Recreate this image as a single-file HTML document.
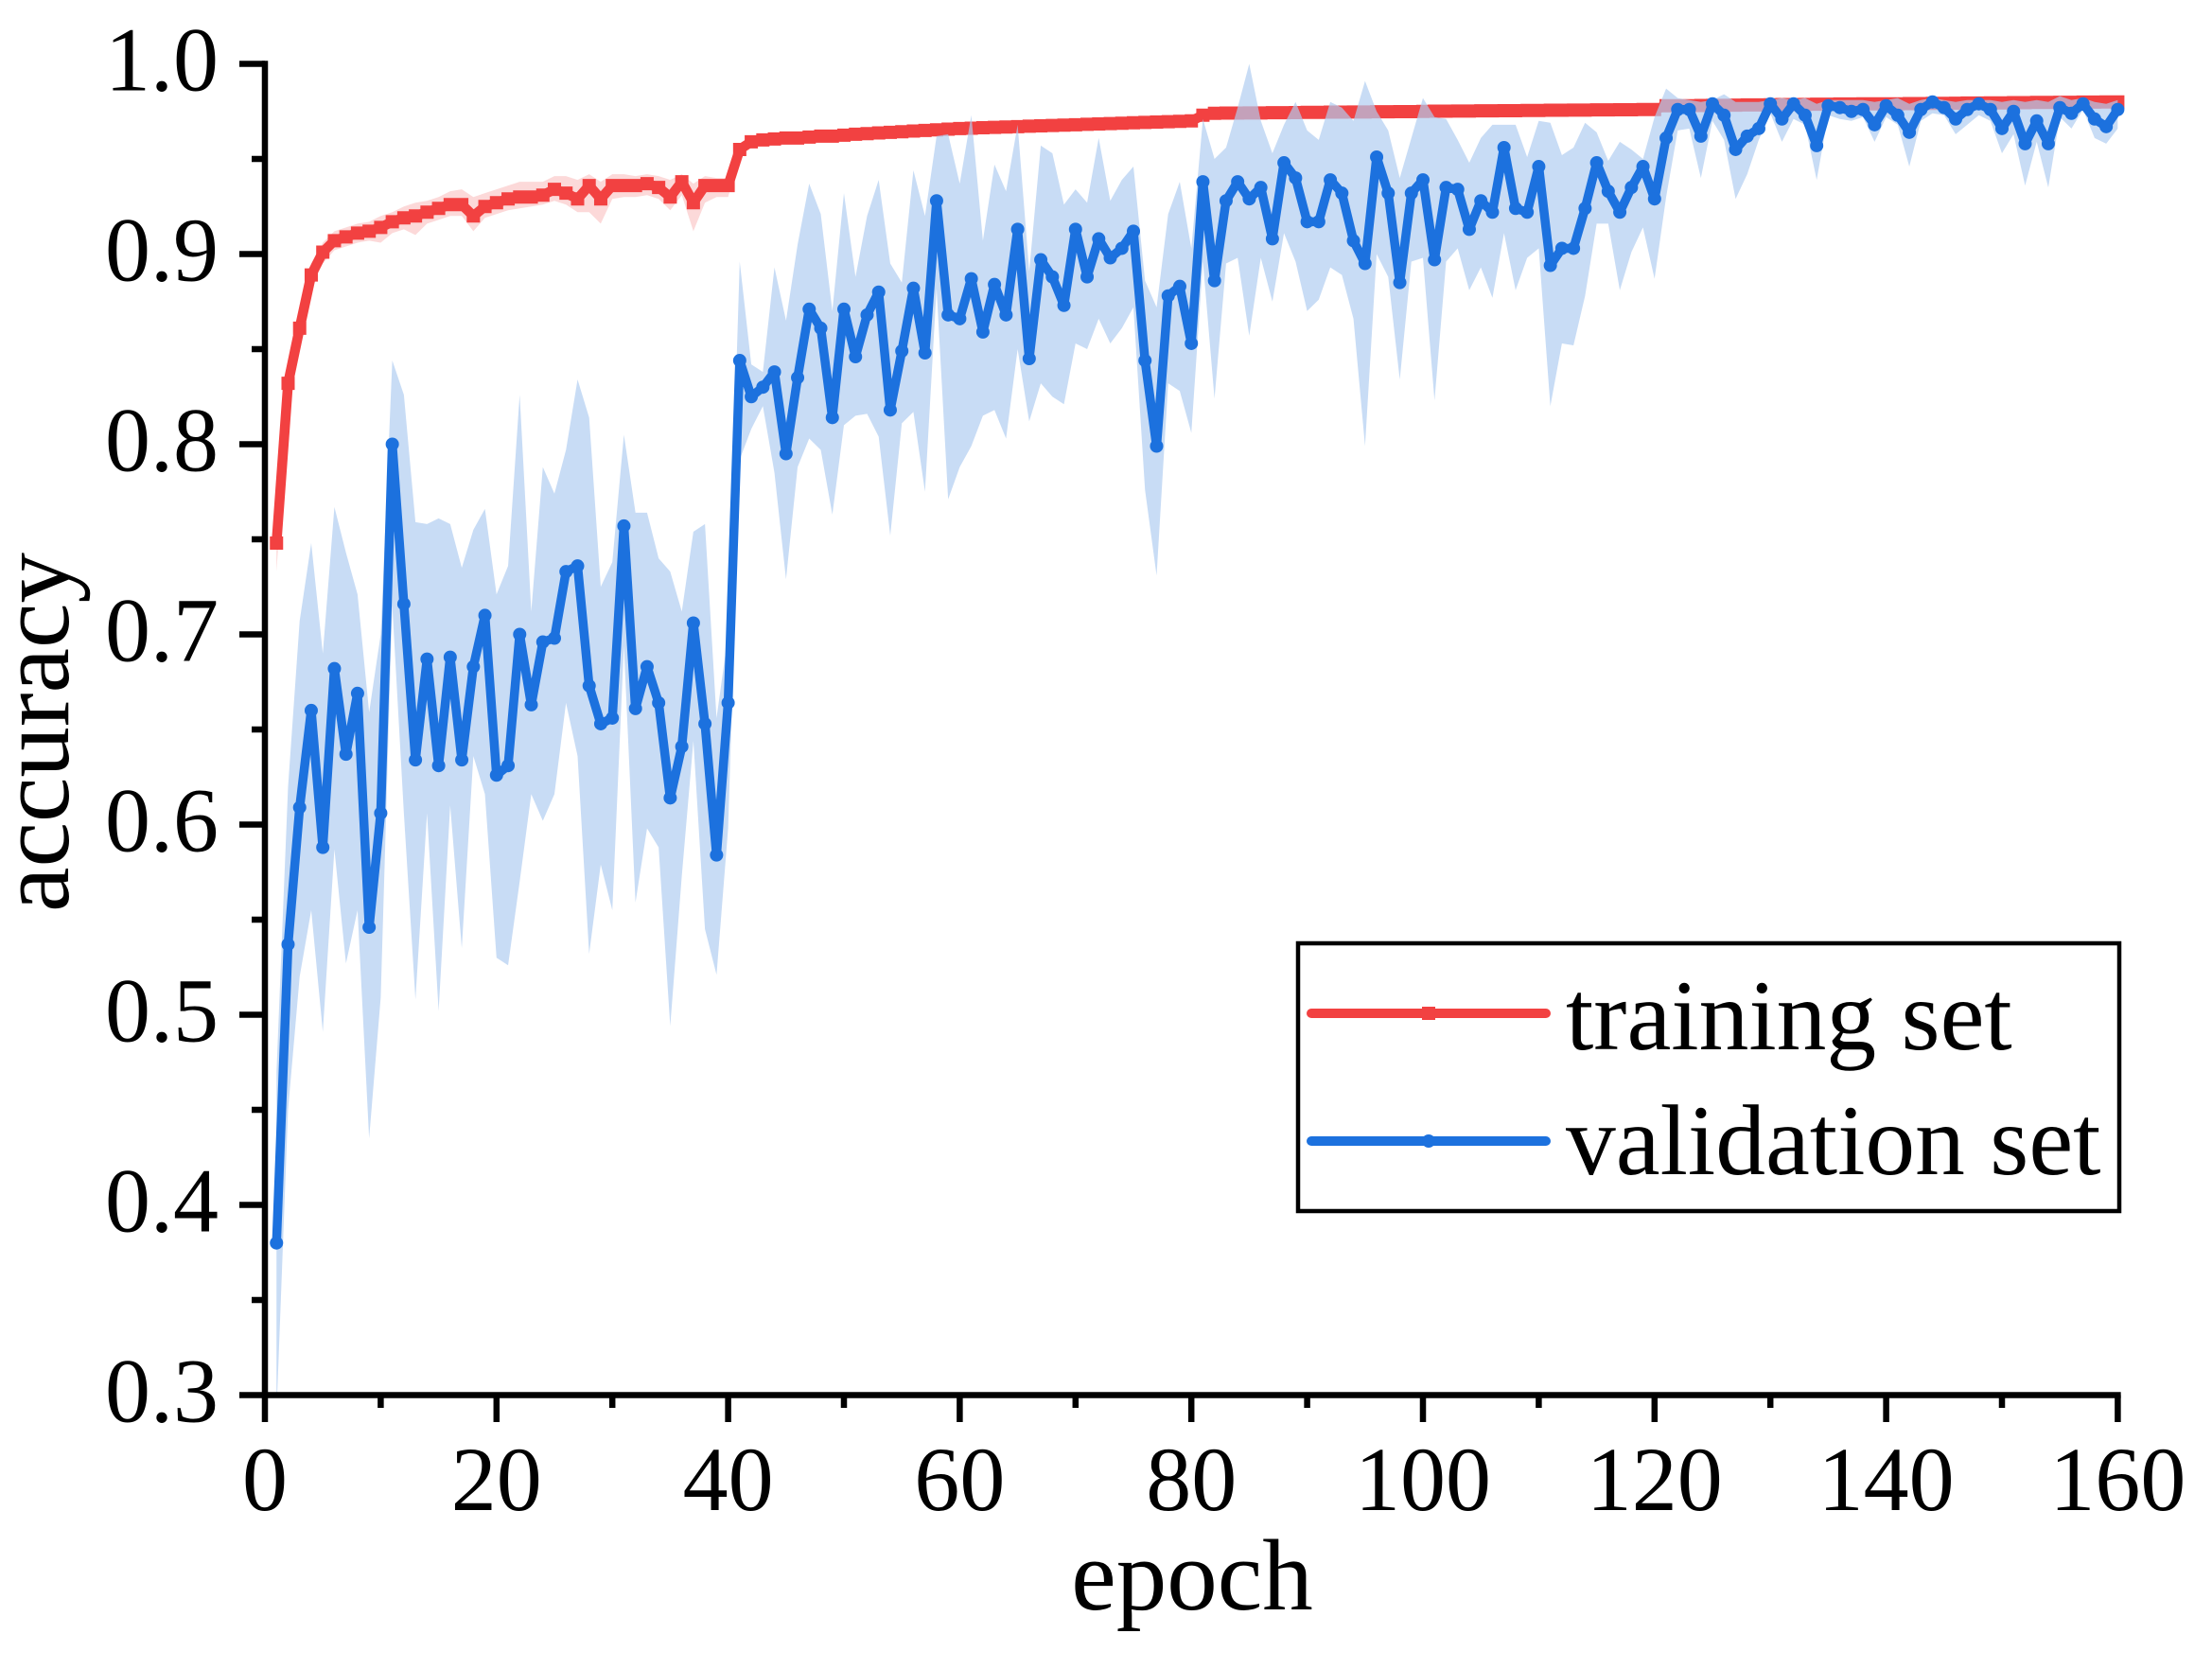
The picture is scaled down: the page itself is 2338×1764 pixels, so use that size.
<!DOCTYPE html>
<html>
<head>
<meta charset="utf-8">
<style>
html,body{margin:0;padding:0;background:#ffffff;}
svg{display:block;}
</style>
</head>
<body>
<svg width="2338" height="1764" viewBox="0 0 2338 1764" xmlns="http://www.w3.org/2000/svg" font-family="'Liberation Serif','Times New Roman',serif">
<defs>
<clipPath id="pc"><rect x="280" y="67.5" width="1958.4" height="1407"/></clipPath>
</defs>
<rect x="0" y="0" width="2338" height="1764" fill="#ffffff"/>

<!-- red band -->
<g clip-path="url(#pc)"><g transform="matrix(12.24 0 0 -2010 280 2077.5)">
<polygon fill="#f24040" fill-opacity="0.2" points="1,.760 2,.842 3,.869 4,.895 5,.906 6,.912 7,.914 8,.916 9,.917 10,.920 11,.922 12,.925 13,.927 14,.928 15,.930 16,.933 17,.934 18,.930 19,.932 20,.934 21,.936 22,.938 23,.938 24,.938 25,.941 26,.941 27,.939 28,.942 29,.938 30,.942 31,.942 32,.941 33,.942 34,.941 35,.939 36,.942 37,.937 38,.941 39,.940 40,.940 41,.958 42,.962 42,.956 41,.952 40,.930 39,.930 38,.927 37,.912 36,.931 35,.923 34,.929 33,.931 32,.930 31,.930 30,.929 29,.916 28,.922 27,.922 26,.926 25,.928 24,.926 23,.925 22,.924 21,.923 20,.921 19,.919 18,.912 17,.920 16,.920 15,.918 14,.916 13,.910 12,.913 11,.911 10,.906 9,.907 8,.906 7,.904 6,.902 5,.895 4,.882 3,.852 2,.822 1,.733"/>
</g></g>

<!-- red line -->
<g transform="matrix(12.24 0 0 -2010 280 2077.5)">
<polyline fill="none" stroke="#f24141" stroke-width="10.5" stroke-linejoin="round" vector-effect="non-scaling-stroke" points="1,.748 2,.832 3,.861 4,.889 5,.901 6,.907 7,.909 8,.911 9,.912 10,.914 11,.917 12,.919 13,.920 14,.922 15,.924 16,.926 17,.926 18,.920 19,.925 20,.927 21,.929 22,.930 23,.930 24,.931 25,.934 26,.932 27,.929 28,.936 29,.929 30,.936 31,.936 32,.936 33,.937 34,.935 35,.930 36,.938 37,.927 38,.936 39,.936 40,.936 41,.955 42,.959 43,.960 44,.9605 45,.961 46,.961 47,.9615 48,.962 49,.962 50,.9625 51,.963 52,.9633 53,.9637 54,.964 55,.9643 56,.9647 57,.965 58,.9653 59,.9657 60,.966 61,.9662 62,.9664 63,.9666 64,.9668 65,.967 66,.9672 67,.9674 68,.9676 69,.9678 70,.968 71,.9682 72,.9684 73,.9686 74,.9688 75,.969 76,.9692 77,.9694 78,.9696 79,.9698 80,.970 81,.973 82,.974 83,.9741 84,.9741 85,.9742 86,.9742 87,.9743 88,.9743 89,.9744 90,.9745 91,.9745 92,.9746 93,.9746 94,.9747 95,.9747 96,.9748 97,.9748 98,.9749 99,.9749 100,.975 101,.9751 102,.9751 103,.9752 104,.9752 105,.9753 106,.9753 107,.9754 108,.9754 109,.9755 110,.9755 111,.9756 112,.9756 113,.9757 114,.9757 115,.9758 116,.9758 117,.9759 118,.9759 119,.976 120,.976 121,.978 122,.978 123,.978 124,.9781 125,.9782 126,.9782 127,.9783 128,.9784 129,.9784 130,.9785 131,.9786 132,.9786 133,.9787 134,.9788 135,.9788 136,.9789 137,.9789 138,.979 139,.979 140,.979 141,.979 142,.9791 143,.9791 144,.9792 145,.9792 146,.9793 147,.9794 148,.9794 149,.9795 150,.9795 151,.9796 152,.9796 153,.9797 154,.9797 155,.9798 156,.9798 157,.9799 158,.9799 159,.980 160,.980"/>
<path fill="none" stroke="#f24141" stroke-width="14" stroke-linecap="square" vector-effect="non-scaling-stroke" d="M1,.748h.001M2,.832h.001M3,.861h.001M4,.889h.001M5,.901h.001M6,.907h.001M7,.909h.001M8,.911h.001M9,.912h.001M10,.914h.001M11,.917h.001M12,.919h.001M13,.920h.001M14,.922h.001M15,.924h.001M16,.926h.001M17,.926h.001M18,.920h.001M19,.925h.001M20,.927h.001M21,.929h.001M22,.930h.001M23,.930h.001M24,.931h.001M25,.934h.001M26,.932h.001M27,.929h.001M28,.936h.001M29,.929h.001M30,.936h.001M31,.936h.001M32,.936h.001M33,.937h.001M34,.935h.001M35,.930h.001M36,.938h.001M37,.927h.001M38,.936h.001M39,.936h.001M40,.936h.001M41,.955h.001M42,.959h.001M43,.960h.001M44,.9605h.001M45,.961h.001M46,.961h.001M47,.9615h.001M48,.962h.001M49,.962h.001M50,.9625h.001M51,.963h.001M52,.9633h.001M53,.9637h.001M54,.964h.001M55,.9643h.001M56,.9647h.001M57,.965h.001M58,.9653h.001M59,.9657h.001M60,.966h.001M61,.9662h.001M62,.9664h.001M63,.9666h.001M64,.9668h.001M65,.967h.001M66,.9672h.001M67,.9674h.001M68,.9676h.001M69,.9678h.001M70,.968h.001M71,.9682h.001M72,.9684h.001M73,.9686h.001M74,.9688h.001M75,.969h.001M76,.9692h.001M77,.9694h.001M78,.9696h.001M79,.9698h.001M80,.970h.001M81,.973h.001M82,.974h.001M83,.9741h.001M84,.9741h.001M85,.9742h.001M86,.9742h.001M87,.9743h.001M88,.9743h.001M89,.9744h.001M90,.9745h.001M91,.9745h.001M92,.9746h.001M93,.9746h.001M94,.9747h.001M95,.9747h.001M96,.9748h.001M97,.9748h.001M98,.9749h.001M99,.9749h.001M100,.975h.001M101,.9751h.001M102,.9751h.001M103,.9752h.001M104,.9752h.001M105,.9753h.001M106,.9753h.001M107,.9754h.001M108,.9754h.001M109,.9755h.001M110,.9755h.001M111,.9756h.001M112,.9756h.001M113,.9757h.001M114,.9757h.001M115,.9758h.001M116,.9758h.001M117,.9759h.001M118,.9759h.001M119,.976h.001M120,.976h.001M121,.978h.001M122,.978h.001M123,.978h.001M124,.9781h.001M125,.9782h.001M126,.9782h.001M127,.9783h.001M128,.9784h.001M129,.9784h.001M130,.9785h.001M131,.9786h.001M132,.9786h.001M133,.9787h.001M134,.9788h.001M135,.9788h.001M136,.9789h.001M137,.9789h.001M138,.979h.001M139,.979h.001M140,.979h.001M141,.979h.001M142,.9791h.001M143,.9791h.001M144,.9792h.001M145,.9792h.001M146,.9793h.001M147,.9794h.001M148,.9794h.001M149,.9795h.001M150,.9795h.001M151,.9796h.001M152,.9796h.001M153,.9797h.001M154,.9797h.001M155,.9798h.001M156,.9798h.001M157,.9799h.001M158,.9799h.001M159,.980h.001M160,.980h.001"/>
</g>

<!-- blue band -->
<g clip-path="url(#pc)"><g transform="matrix(12.24 0 0 -2010 280 2077.5)">
<polygon fill="rgb(175,204,240)" fill-opacity="0.69" points="1,.47 2,.62 3,.707 4,.748 5,.690 6,.767 7,.743 8,.721 9,.659 10,.70 11,.844 12,.826 13,.759 14,.758 15,.761 16,.758 17,.735 18,.755 19,.766 20,.721 21,.736 22,.826 23,.712 24,.788 25,.774 26,.797 27,.834 28,.814 29,.725 30,.738 31,.805 32,.764 33,.764 34,.740 35,.733 36,.712 37,.754 38,.758 39,.656 40,.70 41,.896 42,.842 43,.838 44,.893 45,.865 46,.905 47,.937 48,.921 49,.870 50,.932 51,.888 52,.920 53,.939 54,.895 55,.885 56,.944 57,.920 58,.962 59,.963 60,.937 61,.973 62,.907 63,.947 64,.933 65,.968 66,.891 67,.957 68,.953 69,.926 70,.934 71,.927 72,.961 73,.928 74,.939 75,.946 76,.886 77,.872 78,.921 79,.938 80,.903 81,.971 82,.950 83,.956 84,.977 85,1 86,.970 87,.953 88,.968 89,.980 90,.965 91,.960 92,.980 93,.977 94,.970 95,.991 96,.975 97,.965 98,.940 99,.961 100,.982 101,.972 102,.971 103,.960 104,.948 105,.961 106,.968 107,.968 108,.968 109,.951 110,.970 111,.969 112,.952 113,.956 114,.969 115,.964 116,.949 117,.959 118,.955 119,.950 120,.972 121,.987 122,.982 123,.981 124,.980 125,.981 126,.984 127,.980 128,.980 129,.980 130,.981 131,.982 132,.981 133,.982 134,.979 135,.981 136,.981 137,.981 138,.981 139,.980 140,.981 141,.982 142,.979 143,.981 144,.982 145,.981 146,.980 147,.981 148,.981 149,.981 150,.980 151,.981 152,.980 153,.981 154,.980 155,.983 156,.981 157,.982 158,.980 159,.979 160,.981 160,.966 159,.958 158,.961 157,.976 156,.966 155,.972 154,.935 153,.959 152,.936 151,.963 150,.953 149,.970 148,.973 147,.968 146,.963 145,.973 144,.974 143,.970 142,.946 141,.968 140,.972 139,.959 138,.972 137,.970 136,.971 135,.973 134,.939 133,.968 132,.971 131,.959 130,.974 129,.960 128,.942 127,.929 126,.960 125,.970 124,.940 123,.966 122,.965 121,.930 120,.887 119,.914 118,.901 117,.881 116,.916 115,.916 114,.878 113,.852 112,.853 111,.820 110,.903 109,.898 108,.881 107,.911 106,.877 105,.893 104,.881 103,.903 102,.896 101,.823 100,.898 99,.896 98,.834 97,.888 96,.900 95,.799 94,.866 93,.889 92,.893 91,.876 90,.870 89,.896 88,.911 87,.875 86,.898 85,.857 84,.898 83,.895 82,.824 81,.896 80,.806 79,.828 78,.832 77,.731 76,.776 75,.872 74,.861 73,.853 72,.866 71,.850 70,.853 69,.821 68,.825 67,.832 66,.812 65,.850 64,.803 63,.818 62,.815 61,.799 60,.788 59,.771 58,.882 57,.775 56,.817 55,.811 54,.752 53,.804 52,.816 51,.815 50,.810 49,.763 48,.797 47,.803 46,.788 45,.729 44,.785 43,.820 42,.808 41,.792 40,.598 39,.521 38,.545 37,.644 36,.573 35,.494 34,.588 33,.598 32,.559 31,.694 30,.555 29,.579 28,.532 27,.636 26,.664 25,.616 24,.602 23,.616 22,.570 21,.526 20,.530 19,.616 18,.636 17,.535 16,.610 15,.502 14,.606 13,.508 12,.606 11,.715 10,.509 9,.435 8,.555 7,.527 6,.587 5,.491 4,.555 3,.520 2,.450 1,.290"/>
</g></g>

<!-- blue line -->
<g transform="matrix(12.24 0 0 -2010 280 2077.5)">
<polyline fill="none" stroke="#1c71de" stroke-width="9.5" stroke-linejoin="round" vector-effect="non-scaling-stroke" points="1,.380 2,.537 3,.609 4,.660 5,.588 6,.682 7,.637 8,.669 9,.546 10,.606 11,.800 12,.716 13,.634 14,.687 15,.631 16,.688 17,.634 18,.683 19,.710 20,.626 21,.631 22,.700 23,.663 24,.696 25,.698 26,.733 27,.736 28,.673 29,.653 30,.656 31,.757 32,.661 33,.683 34,.664 35,.614 36,.641 37,.706 38,.653 39,.584 40,.664 41,.844 42,.825 43,.830 44,.838 45,.795 46,.835 47,.871 48,.861 49,.814 50,.871 51,.846 52,.868 53,.880 54,.818 55,.849 56,.882 57,.848 58,.928 59,.868 60,.866 61,.887 62,.859 63,.884 64,.868 65,.913 66,.845 67,.897 68,.888 69,.873 70,.913 71,.888 72,.908 73,.898 74,.903 75,.912 76,.844 77,.799 78,.878 79,.883 80,.853 81,.938 82,.886 83,.928 84,.938 85,.929 86,.935 87,.908 88,.948 89,.940 90,.917 91,.917 92,.939 93,.932 94,.907 95,.895 96,.951 97,.932 98,.885 99,.932 100,.939 101,.897 102,.935 103,.934 104,.913 105,.928 106,.922 107,.956 108,.924 109,.922 110,.946 111,.894 112,.903 113,.903 114,.924 115,.948 116,.933 117,.922 118,.935 119,.946 120,.929 121,.961 122,.976 123,.976 124,.962 125,.979 126,.973 127,.955 128,.962 129,.966 130,.979 131,.971 132,.979 133,.973 134,.957 135,.978 136,.977 137,.975 138,.976 139,.968 140,.978 141,.973 142,.964 143,.976 144,.980 145,.977 146,.971 147,.976 148,.979 149,.976 150,.966 151,.975 152,.958 153,.970 154,.958 155,.977 156,.974 157,.979 158,.971 159,.967 160,.976"/>
<path fill="none" stroke="#1c71de" stroke-width="14" stroke-linecap="round" vector-effect="non-scaling-stroke" d="M1,.380h.001M2,.537h.001M3,.609h.001M4,.660h.001M5,.588h.001M6,.682h.001M7,.637h.001M8,.669h.001M9,.546h.001M10,.606h.001M11,.800h.001M12,.716h.001M13,.634h.001M14,.687h.001M15,.631h.001M16,.688h.001M17,.634h.001M18,.683h.001M19,.710h.001M20,.626h.001M21,.631h.001M22,.700h.001M23,.663h.001M24,.696h.001M25,.698h.001M26,.733h.001M27,.736h.001M28,.673h.001M29,.653h.001M30,.656h.001M31,.757h.001M32,.661h.001M33,.683h.001M34,.664h.001M35,.614h.001M36,.641h.001M37,.706h.001M38,.653h.001M39,.584h.001M40,.664h.001M41,.844h.001M42,.825h.001M43,.830h.001M44,.838h.001M45,.795h.001M46,.835h.001M47,.871h.001M48,.861h.001M49,.814h.001M50,.871h.001M51,.846h.001M52,.868h.001M53,.880h.001M54,.818h.001M55,.849h.001M56,.882h.001M57,.848h.001M58,.928h.001M59,.868h.001M60,.866h.001M61,.887h.001M62,.859h.001M63,.884h.001M64,.868h.001M65,.913h.001M66,.845h.001M67,.897h.001M68,.888h.001M69,.873h.001M70,.913h.001M71,.888h.001M72,.908h.001M73,.898h.001M74,.903h.001M75,.912h.001M76,.844h.001M77,.799h.001M78,.878h.001M79,.883h.001M80,.853h.001M81,.938h.001M82,.886h.001M83,.928h.001M84,.938h.001M85,.929h.001M86,.935h.001M87,.908h.001M88,.948h.001M89,.940h.001M90,.917h.001M91,.917h.001M92,.939h.001M93,.932h.001M94,.907h.001M95,.895h.001M96,.951h.001M97,.932h.001M98,.885h.001M99,.932h.001M100,.939h.001M101,.897h.001M102,.935h.001M103,.934h.001M104,.913h.001M105,.928h.001M106,.922h.001M107,.956h.001M108,.924h.001M109,.922h.001M110,.946h.001M111,.894h.001M112,.903h.001M113,.903h.001M114,.924h.001M115,.948h.001M116,.933h.001M117,.922h.001M118,.935h.001M119,.946h.001M120,.929h.001M121,.961h.001M122,.976h.001M123,.976h.001M124,.962h.001M125,.979h.001M126,.973h.001M127,.955h.001M128,.962h.001M129,.966h.001M130,.979h.001M131,.971h.001M132,.979h.001M133,.973h.001M134,.957h.001M135,.978h.001M136,.977h.001M137,.975h.001M138,.976h.001M139,.968h.001M140,.978h.001M141,.973h.001M142,.964h.001M143,.976h.001M144,.980h.001M145,.977h.001M146,.971h.001M147,.976h.001M148,.979h.001M149,.976h.001M150,.966h.001M151,.975h.001M152,.958h.001M153,.970h.001M154,.958h.001M155,.977h.001M156,.974h.001M157,.979h.001M158,.971h.001M159,.967h.001M160,.976h.001"/>
</g>

<!-- axes -->
<g stroke="#000" stroke-width="6.5" fill="none">
<line x1="280" y1="64.25" x2="280" y2="1503"/>
<line x1="253" y1="1474.5" x2="2241.65" y2="1474.5"/>
<path d="M253,67.5H280M253,268.5H280M253,469.5H280M253,670.5H280M253,871.5H280M253,1072.5H280M253,1273.5H280"/>
<path d="M266,168H280M266,369H280M266,570H280M266,771H280M266,972H280M266,1173H280M266,1374H280"/>
<path d="M524.8,1474.5V1503M769.6,1474.5V1503M1014.4,1474.5V1503M1259.2,1474.5V1503M1504,1474.5V1503M1748.8,1474.5V1503M1993.6,1474.5V1503M2238.4,1474.5V1503"/>
<path d="M402.4,1474.5V1488M647.2,1474.5V1488M892,1474.5V1488M1136.8,1474.5V1488M1381.6,1474.5V1488M1626.4,1474.5V1488M1871.2,1474.5V1488M2116,1474.5V1488"/>
</g>

<!-- y tick labels -->
<g font-size="96" fill="#000" text-anchor="end">
<text x="231" y="95.5">1.0</text>
<text x="231" y="296.5">0.9</text>
<text x="231" y="497.5">0.8</text>
<text x="231" y="698.5">0.7</text>
<text x="231" y="899.5">0.6</text>
<text x="231" y="1100.5">0.5</text>
<text x="231" y="1301.5">0.4</text>
<text x="231" y="1502.5">0.3</text>
</g>

<!-- x tick labels -->
<g font-size="96" fill="#000" text-anchor="middle">
<text x="280" y="1596">0</text>
<text x="524.8" y="1596">20</text>
<text x="769.6" y="1596">40</text>
<text x="1014.4" y="1596">60</text>
<text x="1259.2" y="1596">80</text>
<text x="1504" y="1596">100</text>
<text x="1748.8" y="1596">120</text>
<text x="1993.6" y="1596">140</text>
<text x="2238.4" y="1596">160</text>
</g>

<!-- axis titles -->
<text x="1260" y="1701" font-size="107" text-anchor="middle" fill="#000">epoch</text>
<text transform="translate(72,774) rotate(-90)" font-size="107" text-anchor="middle" fill="#000">accuracy</text>

<!-- legend -->
<rect x="1372" y="997" width="868" height="283" fill="#fff" stroke="#000" stroke-width="4.5"/>
<line x1="1386" y1="1071" x2="1634" y2="1071" stroke="#f24141" stroke-width="10" stroke-linecap="round"/>
<rect x="1503" y="1064" width="14" height="14" fill="#f24141"/>
<line x1="1386" y1="1206" x2="1634" y2="1206" stroke="#1c71de" stroke-width="10" stroke-linecap="round"/>
<circle cx="1510" cy="1206" r="7" fill="#1c71de"/>
<text x="1655" y="1109" font-size="105.5" fill="#000">training set</text>
<text x="1655" y="1241" font-size="105.5" fill="#000">validation set</text>
</svg>
</body>
</html>
